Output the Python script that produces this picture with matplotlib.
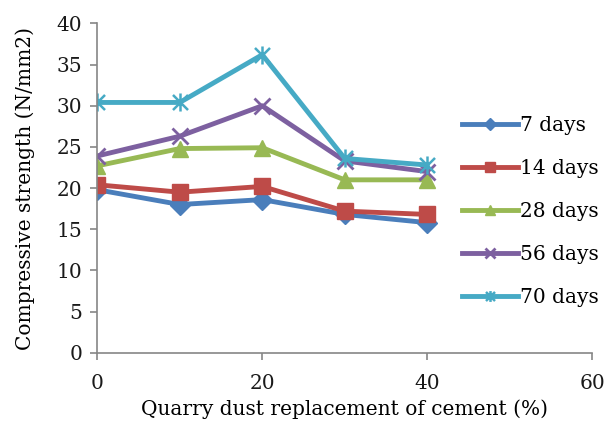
import numpy as np
import matplotlib
matplotlib.use("Agg")
import matplotlib.pyplot as plt
from matplotlib.path import Path

# quarry dust replacement (%)
replacement = [0, 10, 20, 30, 40]

# compressive strength (N/mm2)
days_7 = [19.8, 18.0, 18.6, 16.8, 15.8]
days_14 = [20.4, 19.5, 20.2, 17.2, 16.8]
days_28 = [22.7, 24.8, 24.9, 21.0, 21.0]
days_56 = [23.9, 26.3, 30.0, 23.3, 22.0]
days_70 = [30.4, 30.4, 36.2, 23.6, 22.8]

labels = ["7 days", "14 days", "28 days", "56 days", "70 days"]
colors = ["#4A7EBB", "#BE4B48", "#98B954", "#7D60A0", "#46AAC5"]
markers = ["D", "s", "^", "x", "*"]

# Excel-like star: an x with a vertical bar through it
star = Path([(-1, -1), (1, 1), (-1, 1), (1, -1), (0, -1.2), (0, 1.2)],
            [Path.MOVETO, Path.LINETO, Path.MOVETO, Path.LINETO, Path.MOVETO, Path.LINETO])

plt.rcParams['font.family'] = ['DejaVu Serif']
fs = 14.5

fig = plt.figure(figsize=(6.08, 4.26), dpi=100)
ax = fig.add_axes([0.16, 0.172, 0.814, 0.773])

series = [days_7, days_14, days_28, days_56, days_70]
for vals, lab, c, m in zip(series, labels, colors, markers):
    if m == "x":
        ax.plot(replacement, vals, color=c, lw=3.5, marker=m, ms=11, mew=2, label=lab)
    elif m == "*":
        ax.plot(replacement, vals, color=c, lw=3.5, marker=star, ms=13, mew=1.8, mec=c, label=lab)
    else:
        ms = 10 if m == "D" else 12
        ax.plot(replacement, vals, color=c, lw=3.5, marker=m, ms=ms, label=lab)

ax.set_xlim(0, 60)
ax.set_ylim(0, 40)
ax.set_xticks([0, 20, 40, 60])
ax.set_yticks(np.arange(0, 41, 5))
ax.spines['top'].set_visible(False)
ax.spines['right'].set_visible(False)
for s in ['left', 'bottom']:
    ax.spines[s].set_color('#868686')
    ax.spines[s].set_linewidth(1.2)
ax.tick_params(colors='#868686', labelcolor='#1a1a1a', labelsize=fs, length=5, width=1.2)
ax.tick_params(axis='x', pad=10)
ax.tick_params(axis='y', pad=6)
ax.set_xlabel("Quarry dust replacement of cement (%)", fontsize=fs, labelpad=5)
ax.set_ylabel("Compressive strength (N/mm2)", fontsize=fs, labelpad=15)

leg = ax.legend(loc='upper left', bbox_to_anchor=(0.73, 0.771), bbox_transform=fig.transFigure,
                frameon=False, fontsize=fs, handlelength=2.8, labelspacing=1.2,
                handletextpad=0.1, markerscale=0.6)

fig.savefig("out.png", dpi=100)
